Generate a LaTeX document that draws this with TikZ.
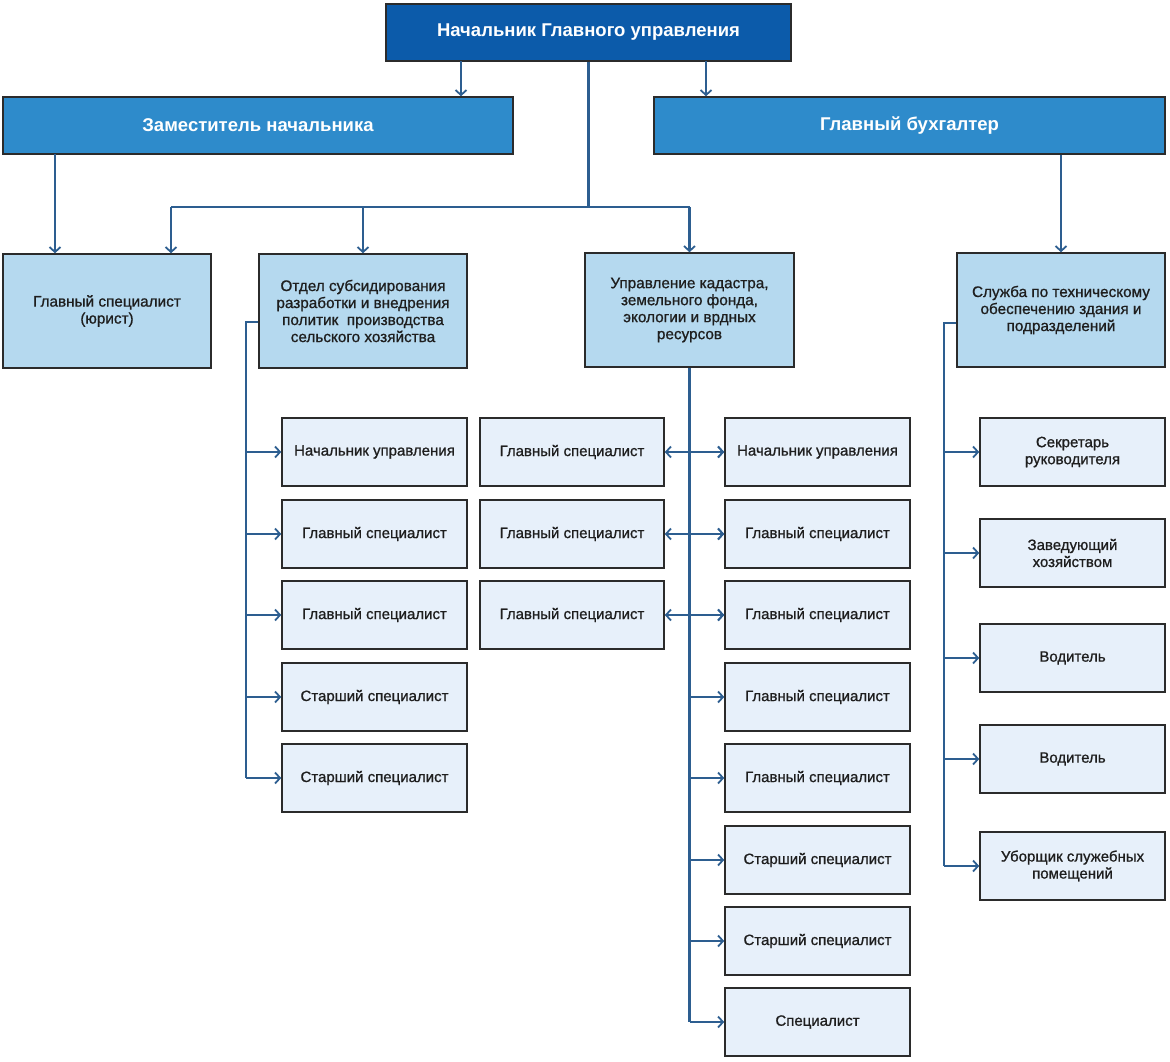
\documentclass[tikz,border=0pt]{standalone}
\usepackage{fontspec}
\setmainfont{Liberation Sans}
\newfontfamily\medfont[FakeBold=0.9]{Liberation Sans}
\usetikzlibrary{arrows.meta,calc}
\definecolor{topblue}{HTML}{0C5BAA}
\definecolor{midblue}{HTML}{2E8BCB}
\definecolor{lvlblue}{HTML}{B5D9EF}
\definecolor{paleblue}{HTML}{E7F0FA}
\definecolor{linecol}{HTML}{2D5E90}
\definecolor{bordercol}{HTML}{2B2B2B}
\definecolor{txtcol}{HTML}{1E1E1E}
\tikzset{
  base/.style={draw=bordercol, line width=1.5pt, rectangle, align=center, inner sep=2pt},
  topbox/.style={base, fill=topblue, text=white, font=\fontsize{18.5}{22}\selectfont\bfseries},
  headbox/.style={base, fill=midblue, text=white, font=\fontsize{18.5}{22}\selectfont\bfseries},
  lvlbox/.style={base, fill=lvlblue, text=txtcol, font=\medfont\fontsize{15.3}{17}\selectfont},
  subbox/.style={base, fill=paleblue, text=txtcol, font=\medfont\fontsize{15}{17}\selectfont},
  conn/.style={draw=linecol, line width=2.2pt},
  arr/.style={conn, -{Straight Barb[length=5pt,width=11pt,line width=1.8pt]}},
  darr/.style={conn, {Straight Barb[length=5pt,width=11pt,line width=1.8pt]}-{Straight Barb[length=5pt,width=11pt,line width=1.8pt]}},
}
\begin{document}
\begin{tikzpicture}[x=1pt,y=-1pt]
\useasboundingbox (0,0) rectangle (1170,1062);
% top and heads
\node[topbox, minimum width=405pt, minimum height=57pt] (top) at (588.5,32.5) {Начальник Главного управления};
\node[headbox, minimum width=510pt, minimum height=57pt] (zam) at (258,125.5) {Заместитель начальника};
\node[headbox, minimum width=511pt, minimum height=57pt] (buh) at (909.5,125.5) {Главный бухгалтер};
% level 2
\node[lvlbox, minimum width=208pt, minimum height=114pt] (yur) at (107,311) {Главный специалист\\(юрист)};
\node[lvlbox, minimum width=208pt, minimum height=114pt] (otd) at (363,311) {Отдел субсидирования\\разработки и внедрения\\политик~ производства\\сельского хозяйства};
\node[lvlbox, minimum width=209pt, minimum height=114pt] (upr) at (689.5,310) {Управление кадастра,\\земельного фонда,\\экологии и врдных\\ресурсов};
\node[lvlbox, minimum width=208pt, minimum height=114pt] (slu) at (1061,310) {Служба по техническому\\обеспечению здания и\\подразделений};
% column A
\foreach \i/\y/\t in {1/452/Начальник управления,2/534/Главный специалист,3/615/Главный специалист,4/697/Старший специалист,5/778/Старший специалист}{
  \node[subbox, minimum width=185pt, minimum height=68pt] (A\i) at (374.5,\y) {\t};
}
% column B
\foreach \i/\y in {1/452,2/534,3/615}{
  \node[subbox, minimum width=184pt, minimum height=68pt] (B\i) at (572,\y) {Главный специалист};
}
% column C
\foreach \i/\y/\t in {1/452/Начальник управления,2/534/Главный специалист,3/615/Главный специалист,4/697/Главный специалист,5/778/Главный специалист,6/860/Старший специалист,7/941/Старший специалист,8/1022/Специалист}{
  \node[subbox, minimum width=185pt, minimum height=68pt] (C\i) at (817.5,\y) {\t};
}
% column D
\node[subbox, minimum width=185pt, minimum height=68pt] (D1) at (1072.5,452) {Секретарь\\руководителя};
\node[subbox, minimum width=185pt, minimum height=68pt] (D2) at (1072.5,553) {Заведующий\\хозяйством};
\node[subbox, minimum width=185pt, minimum height=68pt] (D3) at (1072.5,658) {Водитель};
\node[subbox, minimum width=185pt, minimum height=68pt] (D4) at (1072.5,759) {Водитель};
\node[subbox, minimum width=185pt, minimum height=68pt] (D5) at (1072.5,866) {Уборщик служебных\\помещений};
% connectors from top
\coordinate (t1) at (461,61);
\coordinate (t2) at (706,61);
\draw[arr] (t1) -- (t1 |- zam.north);
\draw[arr] (t2) -- (t2 |- buh.north);
\coordinate (hub) at (588.5,207);
\coordinate (yx) at (171,207);
\draw[conn] (top.south) -- (hub);
\draw[conn] (yx) -- (hub -| upr.north);
\draw[arr] (yx) -- (yx |- yur.north);
\draw[arr] (hub -| otd.north) -- (otd.north);
\draw[arr] (hub -| upr.north) -- (upr.north);
\coordinate (z1) at (55,154);
\draw[arr] (z1) -- (z1 |- yur.north);
\draw[arr] (buh.south -| slu.north) -- (slu.north);
% otdel bracket
\coordinate (ob) at (246,322);
\draw[conn] (otd.west |- ob) -- (ob) -- (ob |- A5.west);
\foreach \i in {1,...,5}{ \draw[arr] (ob |- A\i.west) -- (A\i.west); }
% upr bus
\draw[conn] (upr.south) -- (upr.south |- C8.west);
\foreach \i in {1,...,8}{ \draw[arr] (upr.south |- C\i.west) -- (C\i.west); }
\foreach \i in {1,2,3}{ \draw[darr] (B\i.east) -- (C\i.west); }
% sluzhba bracket
\coordinate (sb) at (944,323);
\draw[conn] (slu.west |- sb) -- (sb) -- (sb |- D5.west);
\foreach \i in {1,...,5}{ \draw[arr] (sb |- D\i.west) -- (D\i.west); }
\end{tikzpicture}
\end{document}
